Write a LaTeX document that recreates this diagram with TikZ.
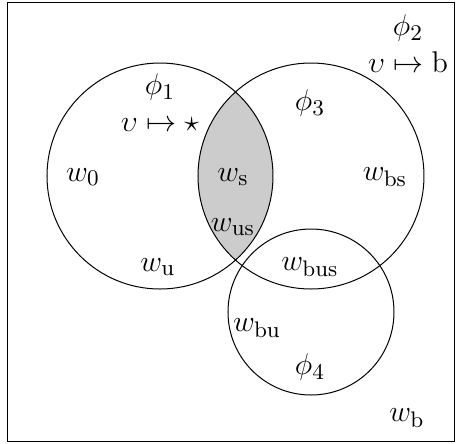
\documentclass[tikz,border=0pt]{standalone}
\usetikzlibrary{positioning}

\begin{document}
\begin{tikzpicture}[
  x=0.4pt, y=-0.4pt,
  lbl/.style={font=\fontsize{13}{15}\selectfont, inner sep=1pt},
  region/.style={draw, line width=0.4pt}
]
  \useasboundingbox (0,0) rectangle (462,443);
  \draw[region] (8,2) rectangle (455,441);
  % shaded overlap of the two upper circles
  \begin{scope}
    \clip (160,176) circle[radius=113];
    \fill[gray!40] (311,176) circle[radius=113];
  \end{scope}
  \draw[region] (160,176) circle[radius=113];
  \draw[region] (311,176) circle[radius=113];
  \draw[region] (311,312) circle[radius=83];

  \node[lbl] (phione) at (160,87) {$\phi_1$};
  \node[lbl] (mapone) at (160,125) {$\upsilon\mapsto\star$};
  \node[lbl] (phitwo) at (408,28) {$\phi_2$};
  \node[lbl] (maptwo) at (408,62) {$\upsilon\mapsto\mathrm{b}$};
  \node[lbl] (phithree) at (310,103) {$\phi_3$};
  \node[lbl] (phifour) at (310,367) {$\phi_4$};
  \node[lbl] (w0) at (83,177) {$w_0$};
  \node[lbl] (ws) at (233,177) {$w_\mathrm{s}$};
  \node[lbl] (wbs) at (385,177) {$w_\mathrm{bs}$};
  \node[lbl] (wus) at (233,227) {$w_\mathrm{us}$};
  \node[lbl] (wu) at (158,267) {$w_\mathrm{u}$};
  \node[lbl] (wbus) at (310,267) {$w_\mathrm{bus}$};
  \node[lbl] (wbu) at (257,328) {$w_\mathrm{bu}$};
  \node[lbl] (wb) at (407,418) {$w_\mathrm{b}$};
\end{tikzpicture}
\end{document}
